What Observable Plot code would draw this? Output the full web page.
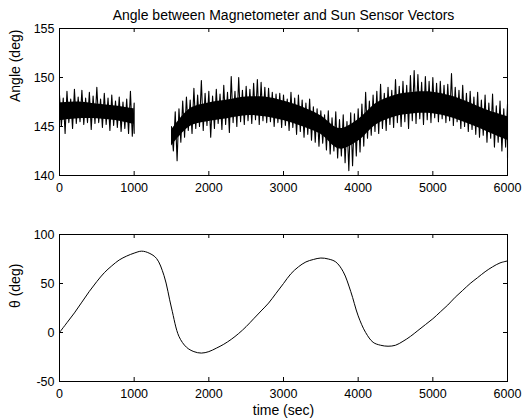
<!DOCTYPE html>
<html><head><meta charset="utf-8">
<script src="https://cdn.jsdelivr.net/npm/d3@7"></script>
<script src="https://cdn.jsdelivr.net/npm/@observablehq/plot@0.6"></script>
<style>body{margin:0;background:#fff}#chart svg{display:block}</style>
</head><body><div id="chart"></div>
<script>
const titleText = "Angle between Magnetometer and Sun Sensor Vectors";
const angleLabel = "Angle (deg)";
const thetaLabel = "\u03b8 (deg)";
const timeLabel = "time (sec)";
const xTicks = [0, 1000, 2000, 3000, 4000, 5000, 6000];
const angleTicks = [140, 145, 150, 155];
const thetaTicks = [-50, 0, 50, 100];

// Angle: spike extremes per 50 s bin
const sampleStep = 50;
const seg1Start = 0;
const seg1Hi = [148.2,147.9,148.6,147.8,148.8,148.0,148.7,147.9,148.5,148.1,149.0,147.8,148.4,147.9,148.2,147.6,148.0,147.5,147.8,148.6,147.4];
const seg1Lo = [145.0,144.3,145.4,144.8,145.3,145.5,145.2,145.4,144.7,145.3,145.4,144.9,145.2,144.6,145.1,144.9,144.5,144.8,144.3,144.0,144.3];
const seg2Start = 1500;
const seg2Hi = [145.0,146.5,146.8,147.6,148.0,147.7,148.9,148.2,149.7,148.4,148.6,148.1,148.8,148.3,149.2,148.5,150.1,148.6,150.0,148.7,
149.1,148.8,149.4,149.8,149.5,149.0,148.9,148.5,148.3,148.4,148.2,147.8,148.5,147.9,148.2,147.7,147.4,147.8,147.0,146.8,
146.6,146.2,146.6,145.9,146.5,145.7,146.2,145.5,146.4,146.3,146.8,147.3,148.5,147.6,148.2,148.6,149.3,148.4,149.0,148.7,
149.8,149.1,149.6,149.2,150.2,150.7,150.3,149.5,150.1,149.6,150.0,149.4,149.6,149.2,149.3,150.4,149.0,148.7,149.2,148.4,
148.6,148.0,148.5,147.7,148.2,147.4,148.3,147.1,147.6,146.8,147.3];
const seg2Lo = [142.5,141.5,143.4,143.9,144.6,144.3,144.8,145.0,144.6,145.1,143.9,144.8,145.3,144.7,145.2,144.4,145.4,145.0,145.5,145.2,
145.6,145.3,145.7,145.2,145.6,145.4,145.5,145.0,145.4,144.9,145.1,144.6,144.9,144.2,144.5,143.9,144.2,143.6,143.4,143.0,
143.3,142.6,142.2,142.5,141.8,142.0,141.3,140.5,141.0,142.0,142.4,143.0,143.8,144.1,144.5,144.3,144.8,144.6,145.2,144.9,
145.4,145.0,145.5,144.8,145.6,145.3,145.8,145.2,145.7,145.4,145.9,145.5,145.8,145.4,145.6,145.1,145.5,144.8,145.0,144.5,
144.7,144.2,143.9,144.1,143.4,143.8,142.9,143.4,142.5,142.9,141.8];

// Angle: dense core band, every 250 s
const coreStep = 250;
const core1Hi = [147.4, 147.5, 147.3, 147.1, 146.8];
const core1Lo = [145.6, 145.8, 145.8, 145.6, 145.2];
const core2Hi = [144.6,146.8,147.4,147.7,148.0,148.0,147.6,147.0,146.1,144.8,145.7,147.4,148.2,148.5,148.5,148.1,147.4,146.6,146.0];
const core2Lo = [143.0,145.0,145.5,145.8,146.1,146.0,145.6,145.0,144.2,142.7,143.5,145.2,146.0,146.3,146.3,145.9,145.2,144.4,143.6];

// theta curve
const thetaTime = [0,100,200,300,400,500,600,700,800,900,1000,1100,1200,1300,1400,1500,1600,1700,1800,1900,
2000,2100,2200,2300,2400,2500,2600,2700,2800,2900,3000,3100,3200,3300,3400,3500,3600,3700,3800,3900,
4000,4100,4200,4300,4400,4500,4600,4700,4800,4900,5000,5100,5200,5300,5400,5500,5600,5700,5800,5900,6000];
const thetaDeg = [0,10,20,31,42,52,61,68,74,78,81,83,81,75.5,58,25,-4,-15,-19.5,-21,
-19.5,-16,-12,-7,-1,6,14,22,30,40,50,60,67,72,74.5,76,75,72,62,42,
17,0,-10,-13,-14,-13,-9,-4,2,8,14,21,28,36,43,50,56,62,67,71,73];

function zigzag(start, hi, lo, seg) {
  const out = [];
  hi.forEach((h, i) => {
    const t = start + i * sampleStep;
    out.push({t, v: h, seg});
    out.push({t: i === hi.length - 1 ? t : t + sampleStep / 2, v: lo[i], seg});
  });
  return out;
}
function band(start, hi, lo, seg) {
  return hi.map((h, i) => ({t: start + i * coreStep, hi: h, lo: lo[i], seg}));
}
const noiseData = zigzag(seg1Start, seg1Hi, seg1Lo, 1).concat(zigzag(seg2Start, seg2Hi, seg2Lo, 2));
const coreData = band(seg1Start, core1Hi, core1Lo, 1).concat(band(seg2Start, core2Hi, core2Lo, 2));
const thetaData = thetaTime.map((t, i) => ({t, v: thetaDeg[i]}));

const W = 523, ML = 59, MR = 16;
const FW = W - ML - MR;
const FONT = "Liberation Sans, Arial, Helvetica, sans-serif";

function boxMarks(yTicks, FH) {
  return [
    Plot.ruleX(xTicks, {insetTop: FH - 4, stroke: "black"}),
    Plot.ruleX(xTicks, {insetBottom: FH - 4, stroke: "black"}),
    Plot.ruleY(yTicks, {insetRight: FW - 4, stroke: "black"}),
    Plot.ruleY(yTicks, {insetLeft: FW - 4, stroke: "black"}),
    Plot.frame({stroke: "black"}),
    Plot.axisX(xTicks, {tickSize: 0, tickPadding: 8, label: null, fontSize: 12.5, tickFormat: d => String(d)}),
    Plot.axisY(yTicks, {tickSize: 0, tickPadding: 5, label: null, fontSize: 12.5, tickFormat: d => String(d)})
  ];
}

const topH = 200, topMT = 28, topMB = 25;
const topPlot = Plot.plot({
  width: W, height: topH, marginLeft: ML, marginRight: MR, marginTop: topMT, marginBottom: topMB,
  style: {fontFamily: FONT, fontSize: "13px", color: "black", background: "white"},
  x: {domain: [0, 6000]},
  y: {domain: [140, 155]},
  marks: [
    Plot.areaY(coreData, {x: "t", y1: "lo", y2: "hi", z: "seg", fill: "black", curve: "catmull-rom"}),
    Plot.line(noiseData, {x: "t", y: "v", z: "seg", stroke: "black", strokeWidth: 1.1}),
    ...boxMarks(angleTicks, topH - topMT - topMB),
    Plot.text([titleText], {frameAnchor: "top", dy: -18, fontSize: 14, text: d => d}),
    Plot.text([angleLabel], {frameAnchor: "left", dx: -44, rotate: -90, fontSize: 14, text: d => d})
  ]
});

const botH = 220, botMT = 34, botMB = 39;
const botPlot = Plot.plot({
  width: W, height: botH, marginLeft: ML, marginRight: MR, marginTop: botMT, marginBottom: botMB,
  style: {fontFamily: FONT, fontSize: "13px", color: "black", background: "white"},
  x: {domain: [0, 6000]},
  y: {domain: [-50, 100]},
  marks: [
    Plot.line(thetaData, {x: "t", y: "v", stroke: "black", strokeWidth: 1, curve: "catmull-rom"}),
    ...boxMarks(thetaTicks, botH - botMT - botMB),
    Plot.text([timeLabel], {frameAnchor: "bottom", dy: 33, fontSize: 14, text: d => d}),
    Plot.text([thetaLabel], {frameAnchor: "left", dx: -44, rotate: -90, fontSize: 14, text: d => d})
  ]
});

document.getElementById("chart").append(topPlot, botPlot);
</script></body></html>
